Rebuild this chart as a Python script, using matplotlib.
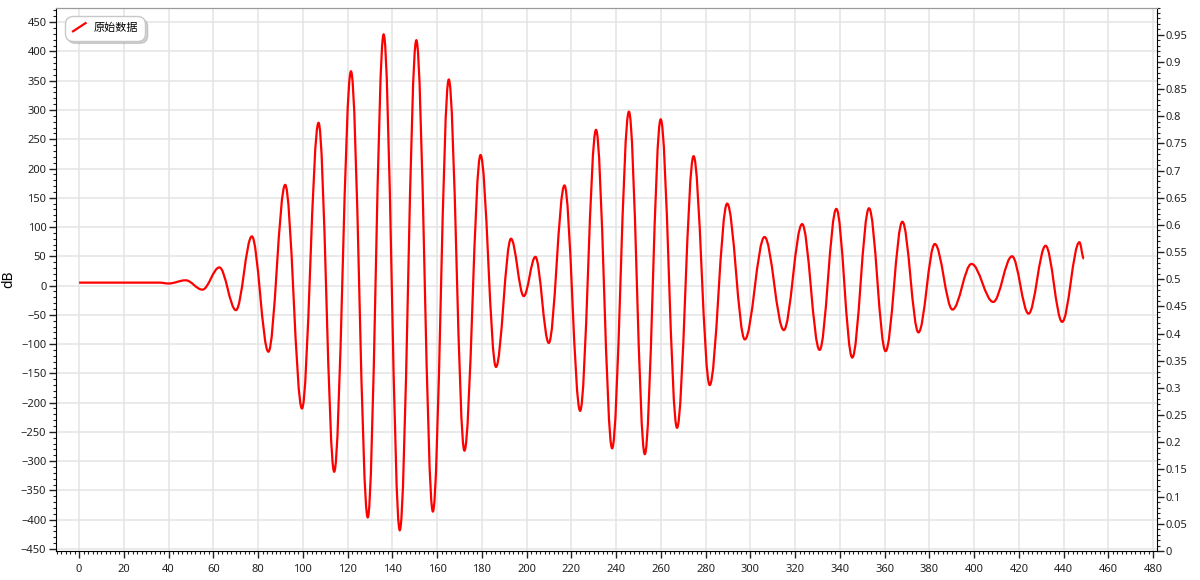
import matplotlib
matplotlib.use("Agg")
import matplotlib.pyplot as plt
from matplotlib.path import Path
from matplotlib.patches import PathPatch
from matplotlib.lines import Line2D
from matplotlib.legend_handler import HandlerBase
from matplotlib.ticker import MultipleLocator, FuncFormatter

# turning points of the trace (x, dB)
turn_x = [0, 36, 40, 47.6, 55.1, 62.7, 70.1, 77.2, 84.6, 92.1, 99.6, 107.0,
          114.0, 121.5, 129.0, 136.1, 143.3, 150.7, 158.1, 165.2, 172.2, 179.4,
          186.3, 193.0, 198.7, 203.9, 209.9, 216.9, 223.9, 231.0, 238.2, 245.7,
          252.8, 259.9, 267.2, 274.6, 281.8, 289.6, 297.5, 306.3, 314.9, 323.1,
          330.9, 338.4, 345.5, 353.0, 360.4, 367.9, 375.1, 382.4, 390.3, 398.8,
          408.5, 416.9, 424.3, 431.9, 439.3, 447.0, 449.0]
turn_y = [5, 5, 3.5, 9, -7, 31, -42, 84, -113, 172, -210, 278,
          -318, 366, -396, 429, -418, 419, -386, 352, -282, 223,
          -139, 80, -18, 49, -98, 171, -214, 266, -278, 297,
          -288, 284, -243, 221, -170, 140, -92, 83, -76, 105,
          -110, 131, -123, 132, -112, 109, -80, 71, -41, 37,
          -28, 50, -48, 68, -62, 74, 46]

series_name = "原始数据"
x_ticks = list(range(0, 481, 20))
left_ticks = list(range(-450, 451, 50))
right_ticks = [i / 20 for i in range(20)]

plt.rcParams["font.family"] = ["Noto Sans", "Noto Sans CJK SC", "DejaVu Sans"]

fig = plt.figure(figsize=(12, 5.8), dpi=100)
ax = fig.add_axes([0.0467, 0.05, 0.9175, 0.937])
ax2 = ax.twinx()

# smooth wave between the turning points, drawn as bezier segments
k = 0.36
verts = [(turn_x[0], turn_y[0])]
codes = [Path.MOVETO]
for i in range(1, len(turn_x)):
    dx = turn_x[i] - turn_x[i - 1]
    verts += [(turn_x[i - 1] + k * dx, turn_y[i - 1]),
              (turn_x[i] - k * dx, turn_y[i]),
              (turn_x[i], turn_y[i])]
    codes += [Path.CURVE4] * 3
ax.add_patch(PathPatch(Path(verts, codes), fill=False, edgecolor="red",
                       lw=1.6, zorder=3))

ax.set_xlim(-10.3, 481.7)
ax.set_ylim(-453.5, 475)
ax2.set_ylim(0, 1)

ax.set_xticks(x_ticks)
ax.set_yticks(left_ticks)
ax.xaxis.set_minor_locator(MultipleLocator(2))
ax.yaxis.set_minor_locator(MultipleLocator(10))
ax2.set_yticks(right_ticks)
ax2.yaxis.set_minor_locator(MultipleLocator(0.01))
ax2.yaxis.set_major_formatter(FuncFormatter(lambda v, p: f"{round(v, 2):g}"))

ax.grid(True, which="major", color="#e4e4e4", lw=1.1)
ax.set_axisbelow(True)

for a in (ax, ax2):
    a.tick_params(which="major", direction="out", length=5, width=1,
                  labelsize=8, colors="#222222", pad=2)
    a.tick_params(which="minor", direction="out", length=2.5, width=0.8,
                  colors="#222222")
    a.spines["top"].set_color("#9a9a9a")
ax.spines["right"].set_visible(False)
ax2.spines["left"].set_visible(False)
ax2.spines["bottom"].set_visible(False)
ax2.tick_params(axis="y", pad=1)
ax.tick_params(axis="x", pad=4)

ax.set_ylabel("dB", fontsize=10)
ax.yaxis.set_label_coords(-0.036, 0.5)


class DiagonalHandler(HandlerBase):
    # legend key drawn as a slanted stroke
    def create_artists(self, legend, orig_handle, xdescent, ydescent,
                       width, height, fontsize, trans):
        ln = Line2D([-xdescent + 0.1 * width, -xdescent + 0.9 * width],
                    [-ydescent - 0.05 * height, -ydescent + 1.0 * height],
                    color=orig_handle.get_color(), lw=1.6)
        ln.set_transform(trans)
        return [ln]


handle = Line2D([], [], color="red", lw=1.6)
leg = ax2.legend([handle], [series_name], loc="upper left",
                 bbox_to_anchor=(0.008, 0.984), borderaxespad=0,
                 fontsize=8, frameon=True,
                 fancybox=True, shadow={"color": "#a8a8a8", "alpha": 0.5},
                 handlelength=1.4, handletextpad=0.6, borderpad=0.6,
                 handler_map={Line2D: DiagonalHandler()})
leg.get_frame().set_edgecolor("#c8c8c8")
leg.get_frame().set_facecolor("white")
leg.get_frame().set_alpha(1)
leg.get_frame().set_boxstyle("round", pad=0, rounding_size=0.7)

fig.savefig("out.png", dpi=100)
